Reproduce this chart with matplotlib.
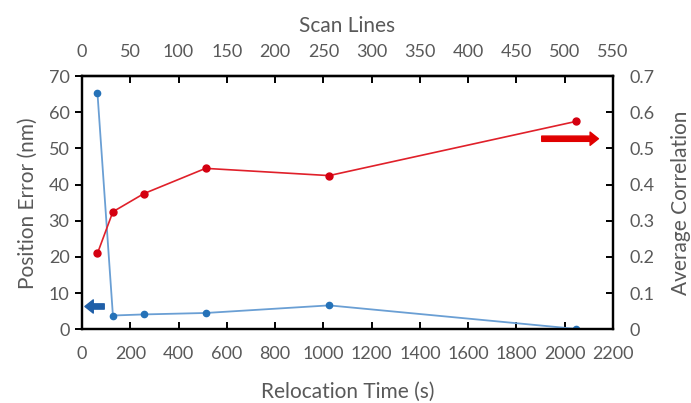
import matplotlib
matplotlib.use("Agg")
import matplotlib.pyplot as plt

# ---- data ----
relocation_time = [64, 128, 256, 512, 1024, 2048]
position_error = [65.3, 3.8, 4.1, 4.5, 6.6, 0.1]
avg_correlation = [0.21, 0.325, 0.375, 0.445, 0.425, 0.575]

x_ticks = list(range(0, 2201, 200))
scan_ticks = list(range(0, 551, 50))
left_ticks = list(range(0, 71, 10))
right_ticks = [0, 0.1, 0.2, 0.3, 0.4, 0.5, 0.6, 0.7]
right_labels = ["0", "0.1", "0.2", "0.3", "0.4", "0.5", "0.6", "0.7"]

GREY = "#595959"
BLUE_LINE = "#6a9fd4"
BLUE_MARK = "#2572b8"
RED = "#e0202a"

plt.rcParams["font.family"] = ["Lato", "DejaVu Sans"]

fig = plt.figure(figsize=(6.91, 4.03), dpi=100)
ax = fig.add_axes([0.1187, 0.183, 0.7683, 0.628])

ax.plot(relocation_time, position_error, color=BLUE_LINE, linewidth=1.3,
        marker="o", markersize=4.5, markerfacecolor=BLUE_MARK,
        markeredgecolor=BLUE_MARK, zorder=3)
ax.set_xlim(0, 2200)
ax.set_ylim(0, 70)
ax.set_xticks(x_ticks)
ax.set_yticks(left_ticks)
ax.set_xlabel("Relocation Time (s)", fontsize=15, color=GREY, labelpad=14)
ax.set_ylabel("Position Error (nm)", fontsize=15, color=GREY, labelpad=8)

ax2 = ax.twinx()
ax2.plot(relocation_time, avg_correlation, color=RED, linewidth=1.2,
         marker="o", markersize=5, markerfacecolor="#d40010",
         markeredgecolor="#d40010", zorder=3)
ax2.set_ylim(0, 0.7)
ax2.set_yticks(right_ticks)
ax2.set_yticklabels(right_labels)
ax2.set_ylabel("Average Correlation", fontsize=15, color=GREY, labelpad=12)

top = ax.secondary_xaxis("top", functions=(lambda x: x / 4, lambda x: x * 4))
top.set_xticks(scan_ticks)
top.set_xlabel("Scan Lines", fontsize=15, color=GREY, labelpad=8)

for a in (ax, ax2, top):
    for s in a.spines.values():
        s.set_linewidth(1.6)
        s.set_color("black")

ax.tick_params(axis="x", direction="in", length=5, width=1.4,
               labelsize=13, labelcolor=GREY, pad=12)
ax.tick_params(axis="y", direction="out", length=5, width=1.4,
               labelsize=13, labelcolor=GREY, pad=4)
ax2.tick_params(axis="y", direction="in", length=5, width=1.4,
                labelsize=13, labelcolor=GREY, pad=12)
top.tick_params(axis="x", direction="in", length=5, width=1.4,
                labelsize=13, labelcolor=GREY, pad=12)

# arrows indicating which axis each series belongs to
arrow_style = "simple,head_length=0.6,head_width=0.95,tail_width=0.38"
ax.annotate("", xy=(12, 6.3), xytext=(92, 6.3),
            arrowprops=dict(arrowstyle=arrow_style, color="#1f5fa8",
                            shrinkA=0, shrinkB=0))
ax2.annotate("", xy=(2140, 0.527), xytext=(1905, 0.527),
             arrowprops=dict(arrowstyle=arrow_style, color="#e00000",
                             shrinkA=0, shrinkB=0))

fig.savefig("out.png", dpi=100)
